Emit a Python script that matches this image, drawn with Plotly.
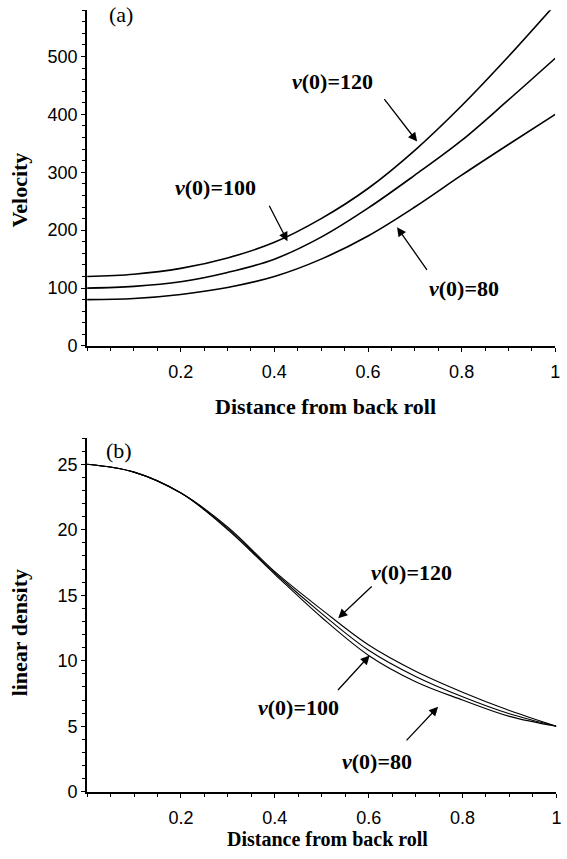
import plotly.graph_objects as go

# ---- data ----
x_pos = [0.0, 0.1, 0.2, 0.3, 0.4, 0.5, 0.6, 0.7, 0.8, 0.9, 1.0]

vel_120 = [120, 124, 134, 152, 179, 220, 272, 338, 415, 500, 590]
vel_100 = [100, 103, 111, 127, 150, 188, 238, 295, 355, 425, 497]
vel_80 = [80, 82, 89, 101, 120, 150, 190, 240, 295, 348, 400]

dens_120 = [25, 24.4, 22.8, 20.2, 16.8, 13.9, 11.2, 9.2, 7.6, 6.2, 5.0]
dens_100 = [25, 24.4, 22.8, 20.1, 16.7, 13.6, 10.8, 8.8, 7.25, 5.95, 5.0]
dens_80 = [25, 24.4, 22.8, 20.0, 16.6, 13.3, 10.4, 8.4, 7.0, 5.75, 5.0]

x_ticks = [0.2, 0.4, 0.6, 0.8, 1.0]
x_tick_text = ["0.2", "0.4", "0.6", "0.8", "1"]
vel_ticks = [0, 100, 200, 300, 400, 500]
dens_ticks = [0, 5, 10, 15, 20, 25]

labels = ["120", "100", "80"]

SERIF = "Liberation Serif, Times New Roman, serif"
SANS = "Liberation Sans Narrow, Arial Narrow, Liberation Sans, Arial, sans-serif"

fig = go.Figure()
for vals in (vel_120, vel_100, vel_80):
    fig.add_trace(go.Scatter(x=x_pos, y=vals, mode="lines", line=dict(color="black", width=1.6, shape="spline"),
                             xaxis="x", yaxis="y", showlegend=False, hoverinfo="skip"))
for vals in (dens_120, dens_100, dens_80):
    fig.add_trace(go.Scatter(x=x_pos, y=vals, mode="lines", line=dict(color="black", width=1.1, shape="spline"),
                             xaxis="x2", yaxis="y2", showlegend=False, hoverinfo="skip"))

axis_common = dict(showline=True, linecolor="black", linewidth=2, showgrid=False, zeroline=False,
                   ticks="outside", ticklen=4, tickwidth=1, tickcolor="black",
                   tickfont=dict(family=SANS, size=18, color="black"))

fig.update_layout(
    width=567, height=859,
    margin=dict(l=0, r=0, t=0, b=0),
    paper_bgcolor="white", plot_bgcolor="white",
    xaxis=dict(domain=[0.155, 0.988], range=[0, 1], anchor="y",
               tickvals=x_ticks, ticktext=x_tick_text, ticklabelstandoff=4,
               minor=dict(dtick=0.05, tick0=0, ticks="outside", ticklen=3, tickcolor="black"),
               **axis_common),
    yaxis=dict(domain=[0.5925, 0.988], range=[0, 580], anchor="x",
               tickvals=vel_ticks,
               minor=dict(dtick=20, tick0=0, ticks="outside", ticklen=3, tickcolor="black"),
               **axis_common),
    xaxis2=dict(domain=[0.155, 0.99], range=[0, 1], anchor="y2",
                tickvals=x_ticks, ticktext=x_tick_text, ticklabelstandoff=5,
                minor=dict(dtick=0.05, tick0=0, ticks="outside", ticklen=3, tickcolor="black"),
                **axis_common),
    yaxis2=dict(domain=[0.0675, 0.484], range=[0, 27], anchor="x2",
                tickvals=dens_ticks,
                minor=dict(dtick=1, tick0=0, ticks="outside", ticklen=3, tickcolor="black"),
                **axis_common),
)

ann = []

def label(text, x, y, xref, yref, size=22, bold=True):
    t = f"<b>{text}</b>" if bold else text
    ann.append(dict(text=t, x=x, y=y, xref=xref, yref=yref, showarrow=False,
                    xanchor="center", yanchor="middle",
                    font=dict(family=SERIF, size=size, color="black")))

def arrow(x, y, ax, ay, xref, yref):
    ann.append(dict(text="", x=x, y=y, xref=xref, yref=yref, ax=ax, ay=ay, showarrow=True,
                    arrowhead=2, arrowsize=1.4, arrowwidth=1.3, arrowcolor="black"))

def vlab(v):
    return f"<i>v</i>(0)={v}"

# top panel
label("(a)", 0.072, 572, "x", "y", size=22, bold=False)
label(vlab(labels[0]), 0.525, 457, "x", "y")
arrow(0.705, 353, -34, -44, "x", "y")
label(vlab(labels[1]), 0.274, 273, "x", "y")
arrow(0.428, 181, -19, -37, "x", "y")
label(vlab(labels[2]), 0.806, 99, "x", "y")
arrow(0.662, 205, 31, 44, "x", "y")

# bottom panel
label("(b)", 0.067, 26.05, "x2", "y2", size=22, bold=False)
label(vlab(labels[0]), 0.692, 16.7, "x2", "y2")
arrow(0.535, 13.25, 35, -33, "x2", "y2")
label(vlab(labels[1]), 0.451, 6.4, "x2", "y2")
arrow(0.602, 10.4, -33, 36, "x2", "y2")
label(vlab(labels[2]), 0.618, 2.33, "x2", "y2")
arrow(0.748, 6.48, -33, 35, "x2", "y2")

# axis titles
def title(text, px, py, angle=0, size=22):
    ann.append(dict(text=f"<b>{text}</b>", x=px/567, y=(859-py)/859, xref="paper", yref="paper",
                    xanchor="center", yanchor="middle", showarrow=False, textangle=angle,
                    font=dict(family=SERIF, size=size, color="black")))

title("Velocity", 20, 192, -90)
title("linear density", 20, 640, -90)
title("Distance from back roll", 328, 411)
title("Distance from back roll", 330, 849, size=20)

fig.update_layout(annotations=ann)
fig.write_html("out.html", config={"displayModeBar": False},
               post_script="document.body.style.margin='0px';")
